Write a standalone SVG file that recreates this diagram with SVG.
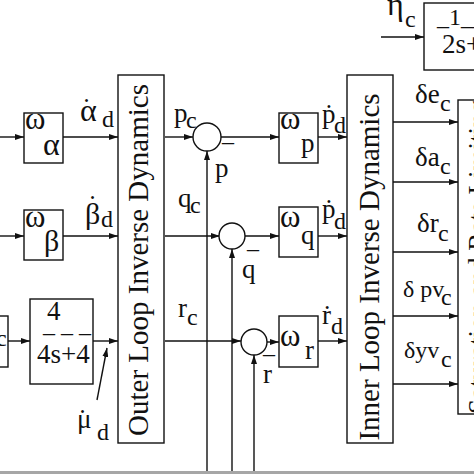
<svg xmlns="http://www.w3.org/2000/svg" width="474" height="474" viewBox="0 0 474 474">
<defs>
<marker id="ah" markerUnits="userSpaceOnUse" markerWidth="9" markerHeight="6" refX="9" refY="3" orient="auto">
<path d="M0,0 L9,3 L0,6 z" fill="#111"/>
</marker>
<style>
text{font-family:"Liberation Serif","Times New Roman",serif;fill:#111}
.t{font-size:27px}
.s{font-size:24px}
.g{font-size:32px}
.w{font-size:31px}
.dot{font-size:27px}
.b{fill:none;stroke:#111;stroke-width:1.4}
.c{fill:#fff;stroke:#111;stroke-width:1.4}
#connectors line{stroke:#111;stroke-width:1.4;fill:none}
.a{marker-end:url(#ah)}
.big{font-size:29px}
</style>
</defs>
<rect width="474" height="474" fill="#fff"/>

<g id="connectors">
<line class="a" x1="0" y1="137" x2="24" y2="137"/>
<line class="a" x1="63" y1="137" x2="118" y2="137"/>
<line class="a" x1="0" y1="236" x2="24" y2="236"/>
<line class="a" x1="63" y1="236" x2="118" y2="236"/>
<line class="a" x1="8" y1="341" x2="30" y2="341"/>
<line class="a" x1="93" y1="341" x2="118" y2="341"/>
<line class="a" x1="97" y1="400" x2="107" y2="348"/>
<line class="a" x1="165" y1="137" x2="193" y2="137"/>
<line class="a" x1="165" y1="236" x2="220" y2="236"/>
<line class="a" x1="165" y1="341" x2="241" y2="341"/>
<line class="a" x1="207" y1="471" x2="207" y2="151"/>
<line class="a" x1="232" y1="471" x2="232" y2="249"/>
<line class="a" x1="254" y1="471" x2="254" y2="355"/>
<line class="a" x1="221" y1="137" x2="279" y2="137"/>
<line class="a" x1="245" y1="236" x2="279" y2="236"/>
<line class="a" x1="267" y1="342" x2="279" y2="342"/>
<line class="a" x1="318" y1="137" x2="347" y2="137"/>
<line class="a" x1="318" y1="236" x2="347" y2="236"/>
<line class="a" x1="318" y1="341" x2="347" y2="341"/>
<line class="a" x1="393" y1="122" x2="458" y2="122"/>
<line class="a" x1="393" y1="182" x2="458" y2="182"/>
<line class="a" x1="393" y1="252" x2="458" y2="252"/>
<line class="a" x1="393" y1="316" x2="458" y2="316"/>
<line class="a" x1="393" y1="384" x2="458" y2="384"/>
<line class="a" x1="381" y1="37" x2="424" y2="37"/>
</g>

<rect x="0" y="471" width="474" height="3" fill="#a6a6a6"/>

<g id="src-left">
<rect class="b" x="-10" y="316" width="18" height="51"/>
<text class="s" x="-4" y="346">c</text>
</g>

<g id="w-alpha">
<rect class="b" x="24" y="113" width="39" height="50"/>
<text class="w" x="25" y="129">ω</text>
<text class="g" x="43" y="155">α</text>
</g>
<g id="w-beta">
<rect class="b" x="24" y="210" width="39" height="50"/>
<text class="w" x="25" y="227">ω</text>
<text class="t" x="44" y="251" style="font-size:30px">β</text>
</g>
<g id="tf-mu">
<rect class="b" x="30" y="299" width="63" height="85"/>
<text class="t" x="47" y="320">4</text>
<text class="s" x="43" y="340">– – –</text>
<text class="t" x="37" y="363">4s+4</text>
</g>

<g id="lbl-alpha"><text class="dot" x="82" y="117">˙</text><text class="g" x="80" y="121">α</text><text class="s" x="102" y="127">d</text></g>
<g id="lbl-beta"><text class="dot" x="88" y="214">˙</text><text class="t" x="85" y="224" style="font-size:30px">β</text><text class="s" x="101" y="227">d</text></g>
<g id="lbl-mu"><text class="dot" x="78" y="428">˙</text><text class="t" x="77" y="428">μ</text><text class="s" x="97" y="440">d</text></g>

<g id="outer">
<rect class="b" x="118" y="75" width="46" height="368"/>
<text class="big" transform="translate(148,260) rotate(-90)" text-anchor="middle">Outer Loop Inverse Dynamics</text>
</g>

<g id="lbl-pc"><text class="t" x="174" y="122">p</text><text class="s" x="186" y="128">c</text></g>
<g id="lbl-qc"><text class="t" x="178" y="207">q</text><text class="s" x="190" y="213">c</text></g>
<g id="lbl-rc"><text class="t" x="178" y="317">r</text><text class="s" x="187" y="325">c</text></g>

<g id="sum-p">
<circle class="c" cx="207" cy="137" r="14"/>
<text class="s" x="222" y="149">–</text>
<text class="t" x="215" y="177">p</text>
</g>
<g id="sum-q">
<circle class="c" cx="232" cy="236" r="13"/>
<text class="s" x="247" y="256">–</text>
<text class="t" x="242" y="278">q</text>
</g>
<g id="sum-r">
<circle class="c" cx="254" cy="342" r="13"/>
<text class="s" x="263" y="361">–</text>
<text class="t" x="263" y="383">r</text>
</g>

<g id="w-p">
<rect class="b" x="279" y="113" width="39" height="50"/>
<text class="w" x="280" y="129">ω</text>
<text class="t" x="301" y="152">p</text>
</g>
<g id="w-q">
<rect class="b" x="279" y="207" width="39" height="50"/>
<text class="w" x="280" y="227">ω</text>
<text class="t" x="301" y="244">q</text>
</g>
<g id="w-r">
<rect class="b" x="279" y="316" width="39" height="51"/>
<text class="w" x="280" y="346">ω</text>
<text class="t" x="305" y="359">r</text>
</g>

<g id="lbl-pd"><text class="t" x="322" y="123">ṗ</text><text class="s" x="334" y="133">d</text></g>
<g id="lbl-qd"><text class="t" x="322" y="218">ṗ</text><text class="s" x="334" y="229">d</text></g>
<g id="lbl-rd"><text class="t" x="322" y="324">ṙ</text><text class="s" x="331" y="334">d</text></g>

<g id="inner">
<rect class="b" x="347" y="75" width="46" height="368"/>
<text class="big" transform="translate(379,267) rotate(-90)" text-anchor="middle">Inner Loop Inverse Dynamics</text>
</g>

<g id="lbl-de"><text class="t" x="415" y="103">δe</text><text class="s" x="440" y="111">c</text></g>
<g id="lbl-da"><text class="t" x="415" y="166">δa</text><text class="s" x="440" y="174">c</text></g>
<g id="lbl-dr"><text class="t" x="417" y="232">δr</text><text class="s" x="438" y="241">c</text></g>
<g id="lbl-dpv"><text class="s" x="403" y="297">δ pv</text><text class="s" x="441" y="305">c</text></g>
<g id="lbl-dyv"><text class="s" x="404" y="358">δyv</text><text class="s" x="441" y="367">c</text></g>

<g id="sat">
<rect class="b" x="458" y="100" width="40" height="314"/>
<text class="t" transform="translate(487,257) rotate(-90)" text-anchor="middle">Saturation and Rate Limiting</text>
</g>

<g id="lbl-eta"><text class="g" x="387" y="15">η</text><text class="s" x="405" y="27">c</text></g>
<g id="tf-eta">
<rect class="b" x="424" y="3" width="60" height="67"/>
<text x="437" y="25" style="font-size:24px">_1__</text>
<text class="t" x="442" y="53">2s+1</text>
</g>
</svg>
